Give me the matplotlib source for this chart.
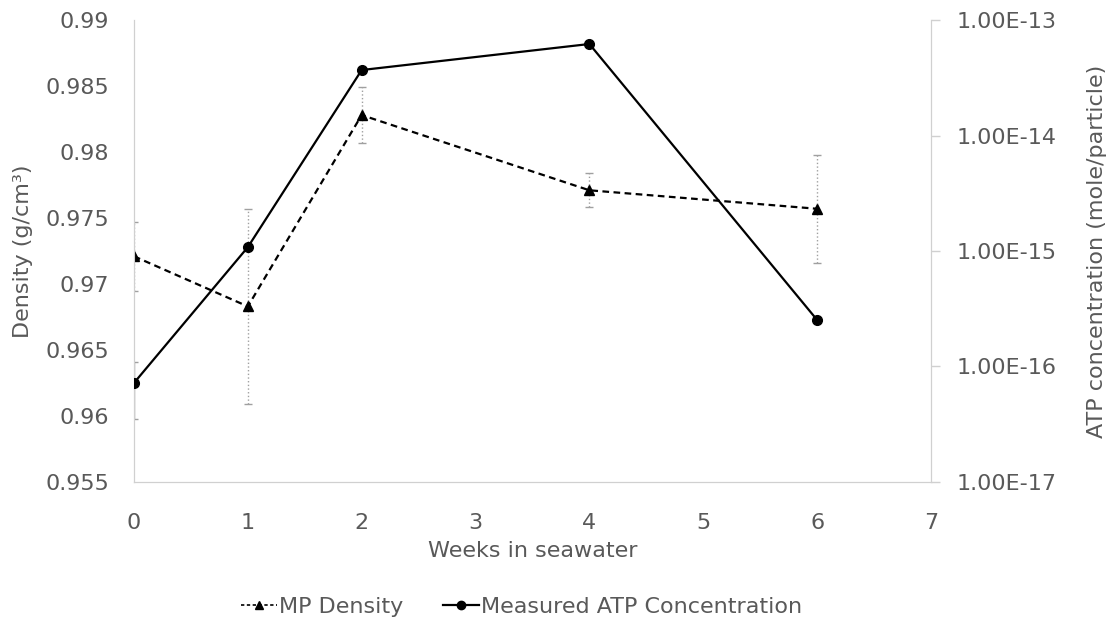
import matplotlib.pyplot as plt
import numpy as np
from matplotlib.ticker import FuncFormatter, FixedLocator, NullLocator
from matplotlib.lines import Line2D

plt.rcParams['font.family'] = ['DejaVu Sans']

weeks = [0, 1, 2, 4, 6]
mp_density = [0.9721, 0.9683, 0.9828, 0.9771, 0.9757]
mp_err = [0.0026, 0.0074, 0.0021, 0.0013, 0.0041]
atp_conc = [7.2e-17, 1.08e-15, 3.69e-14, 6.2e-14, 2.53e-16]
atp_err = [3.7e-17, 0, 0, 0, 0]

density_ticks = [0.955, 0.96, 0.965, 0.97, 0.975, 0.98, 0.985, 0.99]
atp_ticks = [1e-17, 1e-16, 1e-15, 1e-14, 1e-13]

text_col = '#595959'
spine_col = '#d0d0d0'
fs = 16

fig = plt.figure(figsize=(11.1, 6.22), dpi=100)
ax = fig.add_axes([0.1207, 0.2251, 0.7180, 0.7427])
ax2 = ax.twinx()

# MP density with dotted error bars
eb = ax.errorbar(weeks, mp_density, yerr=mp_err, fmt='none', ecolor='#a0a0a0',
                 elinewidth=1, capsize=3, capthick=1, zorder=2)
eb[2][0].set_linestyle(':')
ax.plot(weeks, mp_density, color='black', linestyle=(0, (3, 2)), linewidth=1.6,
        marker='^', markersize=7, zorder=3)

# ATP concentration on log axis
mask = [e > 0 for e in atp_err]
ax2.errorbar(np.array(weeks)[mask], np.array(atp_conc)[mask], yerr=np.array(atp_err)[mask],
             fmt='none', ecolor='#a0a0a0', elinewidth=1, capsize=3, capthick=1, zorder=2)
ax2.plot(weeks, atp_conc, color='black', linestyle='-', linewidth=1.6,
         marker='o', markersize=7, zorder=3)

ax.set_xlim(0, 7)
ax.set_ylim(0.955, 0.99)
ax.set_xticks(range(0, 8))
ax.yaxis.set_major_locator(FixedLocator(density_ticks))
ax.yaxis.set_major_formatter(FuncFormatter(lambda v, p: f"{round(v, 3):g}"))

ax2.set_yscale('log')
ax2.set_ylim(1e-17, 1e-13)
ax2.yaxis.set_major_locator(FixedLocator(atp_ticks))
ax2.yaxis.set_minor_locator(NullLocator())
ax2.yaxis.set_major_formatter(FuncFormatter(lambda v, p: f"{v:.2E}"))

for a in (ax, ax2):
    for s in a.spines.values():
        s.set_color(spine_col)
    a.spines['top'].set_visible(False)

ax.tick_params(axis='y', length=0, pad=18, labelsize=fs, labelcolor=text_col)
ax.tick_params(axis='x', length=0, pad=22, labelsize=fs, labelcolor=text_col)
ax2.tick_params(axis='y', length=6.5, width=1, color=spine_col, pad=12,
                labelsize=fs, labelcolor=text_col)

ax.set_xlabel('Weeks in seawater', fontsize=fs, color=text_col)
ax.set_ylabel('Density (g/cm³)', fontsize=fs, color=text_col)
ax2.set_ylabel('ATP concentration (mole/particle)', fontsize=fs, color=text_col)
ax.xaxis.set_label_coords(0.5, -0.128)
ax.yaxis.set_label_coords(-0.127, 0.5)
ax2.yaxis.set_label_coords(1.196, 0.5)

handles = [
    Line2D([], [], color='black', linestyle=(0, (2, 1.5)), linewidth=1.2, marker='^', markersize=6),
    Line2D([], [], color='black', linestyle='-', linewidth=1.6, marker='o', markersize=6),
]
fig.legend(handles, ['MP Density', 'Measured ATP Concentration'], loc='center',
           bbox_to_anchor=(0.47, 0.024), ncol=2, frameon=False, fontsize=fs,
           handlelength=1.6, handletextpad=0.1, columnspacing=1.8, labelcolor=text_col)

fig.savefig('out.png', dpi=100)
